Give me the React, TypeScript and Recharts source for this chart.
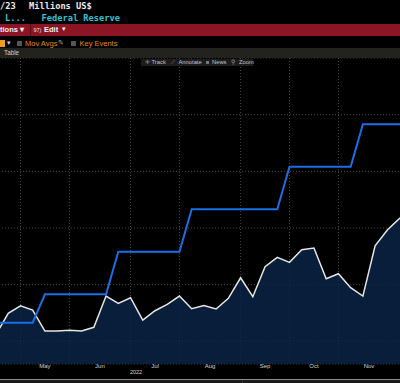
import React from 'react';
import { ComposedChart, Area, Line, XAxis, YAxis, CartesianGrid } from 'recharts';

// weekly observations, one before and one after the visible window
const weeks = [
  '2022-04-20', '2022-04-27', '2022-05-04', '2022-05-11', '2022-05-18', '2022-05-25',
  '2022-06-01', '2022-06-08', '2022-06-15', '2022-06-22', '2022-06-29',
  '2022-07-06', '2022-07-13', '2022-07-20', '2022-07-27',
  '2022-08-03', '2022-08-10', '2022-08-17', '2022-08-24', '2022-08-31',
  '2022-09-07', '2022-09-14', '2022-09-21', '2022-09-28',
  '2022-10-05', '2022-10-12', '2022-10-19', '2022-10-26',
  '2022-11-02', '2022-11-09', '2022-11-16', '2022-11-23', '2022-11-30',
  '2022-12-07', '2022-12-14',
];

// Millions US$ (area)
const reserveValues = [
  120, 494, 628, 552, 182, 182, 194, 182, 247, 799, 671, 769, 376, 540, 653,
  799, 575, 632, 570, 759, 1122, 787, 1316, 1482, 1394, 1616, 1646, 1105, 1193,
  946, 799, 1687, 1964, 2170, 2280,
];

// policy rate, % (blue line)
const fedFundsRate = [
  0.33, 0.33, 0.33, 0.33, 0.83, 0.83, 0.83, 0.83, 0.83, 0.83, 1.58, 1.58, 1.58,
  1.58, 1.58, 1.58, 2.33, 2.33, 2.33, 2.33, 2.33, 2.33, 2.33, 2.33, 3.08, 3.08,
  3.08, 3.08, 3.08, 3.08, 3.83, 3.83, 3.83, 3.83, 3.83,
];

const monthLabels = ['May', 'Jun', 'Jul', 'Aug', 'Sep', 'Oct', 'Nov'];
const rateTicks = [0, 1, 2, 3, 4];
const yearLabel = '2022';
const yearPos = 11.45;

const data = weeks.map((d, i) => ({
  i,
  date: d,
  reserves: reserveValues[i],
  rate: fedFundsRate[i],
}));

// first week of each month
const monthStartIdx: number[] = [];
weeks.forEach((d, i) => {
  if (i > 0 && d.slice(5, 7) !== weeks[i - 1].slice(5, 7)) monthStartIdx.push(i);
});
const monthTicks = monthStartIdx.slice(0, monthLabels.length);
const labelTicks = monthLabels.map((m, k) => ({
  pos: (monthStartIdx[k] + monthStartIdx[k + 1]) / 2,
  text: m,
}));
labelTicks.push({ pos: yearPos, text: yearLabel });

const NoLabel = () => <g />;

const AxisLabel = (props: any) => {
  const { x, y, payload } = props;
  const lab = labelTicks.find((t) => Math.abs(t.pos - payload.value) < 1e-6);
  if (!lab) return <g />;
  const isYear = lab.text === yearLabel;
  return (
    <text
      x={x}
      y={y + (isYear ? 10.5 : 4)}
      textAnchor="middle"
      fontSize={isYear ? 5.5 : 6}
      fill="#d4d4d4"
      fontFamily="'Liberation Sans', Arial, sans-serif"
    >
      {lab.text}
    </text>
  );
};

const mono = "'DejaVu Sans Mono', monospace";
const sans = "'Liberation Sans', Arial, sans-serif";

const abs = (s: React.CSSProperties): React.CSSProperties => ({ position: 'absolute', whiteSpace: 'nowrap', ...s });

const Header = () => (
  <>
    <span style={abs({ left: 0, top: 1, fontFamily: mono, fontSize: 8.7, color: '#ececec', fontWeight: 'bold' })}>/23</span>
    <span style={abs({ left: 29, top: 1, fontFamily: mono, fontSize: 8.7, color: '#ececec', fontWeight: 'bold' })}>Millions US$</span>
    <span style={abs({ left: 5, top: 12.5, fontFamily: mono, fontSize: 8.7, color: '#35c0cf', fontWeight: 'bold' })}>L...</span>
    <span style={abs({ left: 41.5, top: 12.5, fontFamily: mono, fontSize: 8.7, color: '#35c0cf', fontWeight: 'bold' })}>Federal Reserve</span>

    <div style={abs({ left: 0, top: 24, width: 400, height: 12, background: '#8b1525' })} />
    <span style={abs({ left: 0, top: 25, fontFamily: sans, fontSize: 7.5, color: '#f2f2f2', fontWeight: 'bold' })}>tions ▾</span>
    <div style={abs({ left: 30, top: 24, width: 1, height: 12, background: '#5a0d17' })} />
    <span style={abs({ left: 33.5, top: 26.5, fontFamily: sans, fontSize: 5.5, color: '#e0e0e0' })}>97)</span>
    <span style={abs({ left: 44, top: 25, fontFamily: sans, fontSize: 7.5, color: '#f2f2f2', fontWeight: 'bold' })}>Edit</span>
    <span style={abs({ left: 62, top: 25, fontFamily: sans, fontSize: 7, color: '#f2f2f2' })}>▾</span>

    <div style={abs({ left: 0, top: 40, width: 4.5, height: 7, background: '#f29a1c' })} />
    <span style={abs({ left: 7, top: 38.5, fontFamily: sans, fontSize: 6.5, color: '#cfcfcf' })}>▾</span>
    <div style={abs({ left: 17, top: 41, width: 4.5, height: 5, background: '#555' })} />
    <span style={abs({ left: 25, top: 38.5, fontFamily: sans, fontSize: 7.5, color: '#e8861a' })}>Mov Avgs</span>
    <span style={abs({ left: 58, top: 38.5, fontFamily: sans, fontSize: 6.5, color: '#aaa' })}>✎</span>
    <div style={abs({ left: 71, top: 41, width: 4.5, height: 5, background: '#555' })} />
    <span style={abs({ left: 79.5, top: 38.5, fontFamily: sans, fontSize: 7.5, color: '#e8861a' })}>Key Events</span>

    <div style={abs({ left: 0, top: 48, width: 400, height: 10, background: '#22221e' })} />
    <span style={abs({ left: 4, top: 49, fontFamily: sans, fontSize: 6.3, color: '#cfcfcf' })}>Table</span>

    <div style={abs({ left: 141, top: 58.5, width: 112, height: 7.5, background: '#1c1c1c' })} />
    <span style={abs({ left: 145, top: 58.5, fontFamily: sans, fontSize: 5.8, color: '#9a9a9a' })}>✛</span>
    <span style={abs({ left: 151.5, top: 58.5, fontFamily: sans, fontSize: 5.8, color: '#c4c4c4' })}>Track</span>
    <span style={abs({ left: 170.5, top: 58.5, fontFamily: sans, fontSize: 5.8, color: '#9a9a9a' })}>⟋</span>
    <span style={abs({ left: 178.5, top: 58.5, fontFamily: sans, fontSize: 5.8, color: '#c4c4c4' })}>Annotate</span>
    <div style={abs({ left: 205.5, top: 60.5, width: 3, height: 3.5, background: '#777' })} />
    <span style={abs({ left: 212, top: 58.5, fontFamily: sans, fontSize: 5.8, color: '#c4c4c4' })}>News</span>
    <span style={abs({ left: 230.5, top: 58.5, fontFamily: sans, fontSize: 5.8, color: '#9a9a9a' })}>⚲</span>
    <span style={abs({ left: 239, top: 58.5, fontFamily: sans, fontSize: 5.8, color: '#c4c4c4' })}>Zoom</span>

    <div style={abs({ left: 0, top: 380, width: 400, height: 3, background: '#1a1a1a' })} />
    <div style={abs({ left: 242, top: 380, width: 1, height: 3, background: '#333' })} />
  </>
);

export default function App() {
  return (
    <div style={{ position: 'absolute', left: 0, top: 0, width: 400, height: 383, overflow: 'hidden', background: '#000' }}>
      <div style={{ position: 'absolute', left: -4.33, top: 58 }}>
        <ComposedChart width={415.8} height={325} data={data} margin={{ top: 0, right: 0, bottom: 0, left: 0 }}>
          <CartesianGrid xAxisId="x" yAxisId="rate" stroke="#474747" strokeDasharray="1 2" />
          <XAxis
            xAxisId="x"
            type="number"
            dataKey="i"
            domain={[0, weeks.length - 1]}
            ticks={monthTicks}
            interval={0}
            allowDataOverflow
            height={3}
            tick={<NoLabel />}
            tickSize={2}
            tickLine={{ stroke: '#e0e0e0' }}
            axisLine={{ stroke: '#8e8e8e', strokeWidth: 2 }}
          />
          <XAxis
            xAxisId="lbl"
            type="number"
            dataKey="i"
            domain={[0, weeks.length - 1]}
            ticks={labelTicks.map((t) => t.pos)}
            interval={0}
            allowDataOverflow
            height={16}
            axisLine={false}
            tickLine={false}
            tickSize={0}
            tickMargin={0}
            tick={<AxisLabel />}
          />
          <YAxis yAxisId="rate" hide domain={[-0.4, 5]} ticks={rateTicks} allowDataOverflow />
          <YAxis yAxisId="usd" hide orientation="right" domain={[-400, 5000]} allowDataOverflow />
          <Area
            xAxisId="x"
            yAxisId="usd"
            type="linear"
            dataKey="reserves"
            baseValue="dataMin"
            stroke="#e6e6e6"
            strokeWidth={1.5}
            fill="#0a2447"
            fillOpacity={0.82}
            dot={false}
            activeDot={false}
            isAnimationActive={false}
          />
          <Line
            xAxisId="x"
            yAxisId="rate"
            type="linear"
            dataKey="rate"
            stroke="#1a6ee6"
            strokeWidth={2}
            dot={false}
            activeDot={false}
            isAnimationActive={false}
          />
        </ComposedChart>
      </div>
      <Header />
    </div>
  );
}
